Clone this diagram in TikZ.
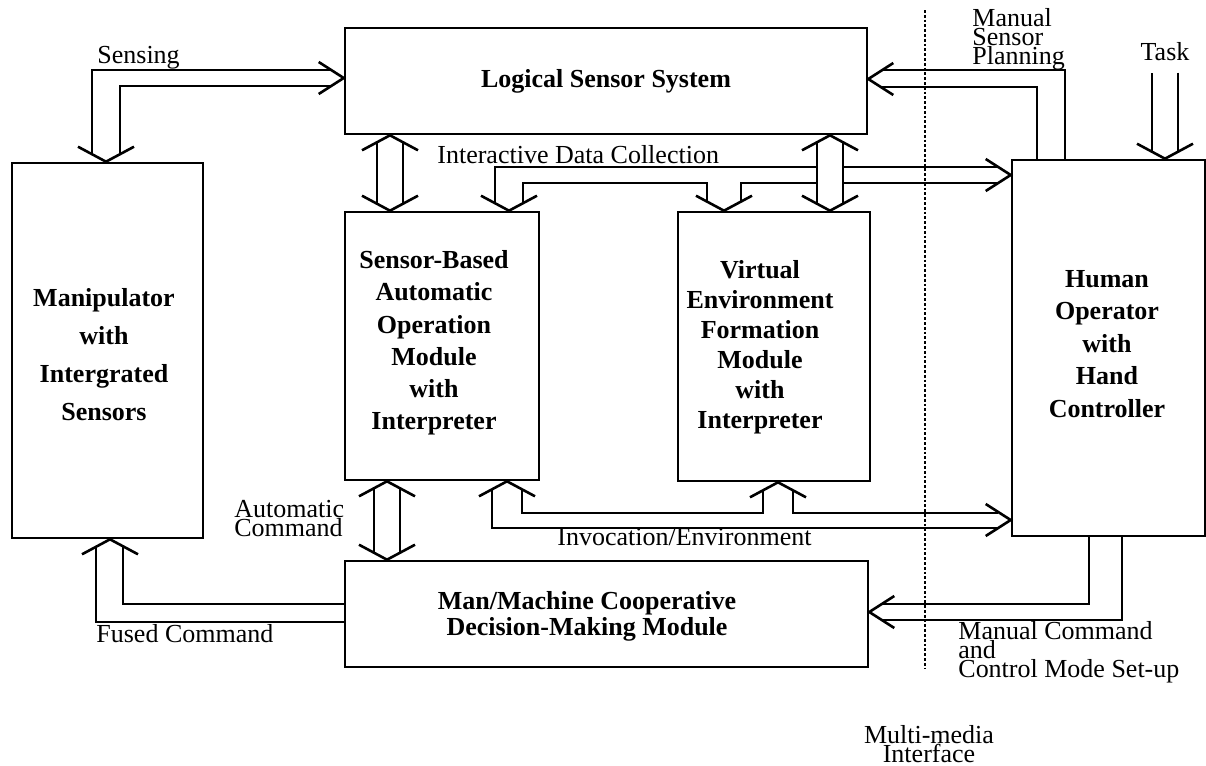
\documentclass[tikz,border=0pt]{standalone}
\usepackage{fontspec}
\setmainfont{Liberation Serif}
\usetikzlibrary{calc}
\lineskiplimit=-20pt

\tikzset{
  box/.style={draw, line width=1.3pt, inner sep=0pt},
  boxtext/.style={font=\bfseries\fontsize{13}{#1}\selectfont, align=center, inner sep=0pt},
  boxtext/.default=16,
  lbl/.style={font=\fontsize{13}{#1}\selectfont, inner sep=0pt},
  lbl/.default=9.5,
  pipe/.style={line width=1.3pt},
  twin/.style={line width=1.3pt, double=white, double distance=11.7pt},
  divider/.style={line width=1.4pt, dash pattern=on 1.4pt off 1pt},
  tipdown/.pic={\draw[pipe] (-28,-15) -- (0,0) -- (28,-15);},
  tipup/.pic={\draw[pipe] (-28,15) -- (0,0) -- (28,15);},
  tipright/.pic={\draw[pipe] (-25,-16) -- (0,0) -- (-25,16);},
  tipleft/.pic={\draw[pipe] (25,-16) -- (0,0) -- (25,16);},
}

\begin{document}
\begin{tikzpicture}[x=0.5pt, y=-0.5pt]
  \useasboundingbox (0,0) rectangle (1206,766);

  % blocks
  \node[box, minimum width=261pt, minimum height=53pt, font=\bfseries\fontsize{13}{16}\selectfont] (lss) at (606,81) {Logical Sensor System};
  \node[box, minimum width=95.5pt, minimum height=187.5pt] (man) at (107.5,350.5) {};
  \node[box, minimum width=97pt, minimum height=134pt] (sba) at (442,346) {};
  \node[box, minimum width=96pt, minimum height=134.5pt] (vef) at (774,346.5) {};
  \node[box, minimum width=96.5pt, minimum height=188pt] (hum) at (1108.5,348) {};
  \node[box, minimum width=261.5pt, minimum height=53pt] (mmc) at (606.5,614) {};

  \node[boxtext=19] (man-t) at (104,355) {Manipulator\\with\\Intergrated\\Sensors};
  \node[boxtext=16.1] (sba-t) at (434,343) {Sensor-Based\\Automatic\\Operation\\Module\\with\\Interpreter};
  \node[boxtext=15] (vef-t) at (760,347) {Virtual\\Environment\\Formation\\Module\\with\\Interpreter};
  \node[boxtext=16.25] (hum-t) at (1107,344) {Human\\Operator\\with\\Hand\\Controller};
  \node[boxtext=13] (mmc-t) at (587,616) {Man/Machine Cooperative\\Decision-Making Module};

  % labels
  \node[lbl, anchor=base west] (sensing) at (97,63) {Sensing};
  \node[lbl, anchor=base west] (idc) at (437,163) {Interactive Data Collection};
  \node[lbl, anchor=base west] (inv) at (557,545) {Invocation/Environment};
  \node[lbl, anchor=north west, align=left] (autoc) at (234,500) {Automatic\\Command};
  \node[lbl, anchor=base west] (fused) at (96,642) {Fused Command};
  \node[lbl, anchor=north west, align=left] (msp) at (972,8) {Manual\\Sensor\\Planning};
  \node[lbl, anchor=base] (task) at (1165,60) {Task};
  \node[lbl, anchor=north west, align=left] (mcm) at (958,621) {Manual Command\\and\\Control Mode Set-up};
  \node[lbl, anchor=north, align=center] (mmi) at (929,725) {Multi-media\\Interface};

  % interface line
  \coordinate (div-a) at (925,10);
  \coordinate (div-b) at (925,668);
  \draw[divider] (div-a) -- (div-b);

  % arrow head points
  \coordinate (manTop) at (man.north -| 106,0);
  \coordinate (sbaTopA) at (sba.north -| 390,0);
  \coordinate (sbaTopB) at (sba.north -| 509,0);
  \coordinate (vefTopA) at (vef.north -| 724,0);
  \coordinate (vefTopB) at (vef.north -| 830,0);
  \coordinate (mmcTop) at (mmc.north -| 387,0);
  \coordinate (humTop) at (hum.north -| task.south);
  \coordinate (lssBotA) at (lss.south -| 390,0);
  \coordinate (lssBotB) at (lss.south -| 830,0);
  \coordinate (sbaBotA) at (sba.south -| 387,0);
  \coordinate (sbaBotB) at (sba.south -| 507,0);
  \coordinate (vefBot) at (vef.south -| 778,0);
  \coordinate (manBot) at (man.south -| 110,0);
  \coordinate (lssIn) at (lss.west |- 0,78);
  \coordinate (humInA) at (hum.west |- 0,175);
  \coordinate (humInB) at (hum.west |- 0,520);
  \coordinate (lssOut) at (lss.east |- 0,79);
  \coordinate (mmcIn) at (mmc.east |- 0,612);

  % sensing
  \draw[pipe, shorten <=3.75pt, shorten >=6.25pt] (man.north -| 92,0) |- (lss.west |- 0,70);
  \draw[pipe, shorten <=3.75pt, shorten >=6.25pt] (man.north -| 120,0) |- (lss.west |- 0,86);
  % interactive data collection
  \draw[pipe, shorten <=3.75pt, shorten >=6.25pt] (sba.north -| 495,0) |- (hum.west |- 0,167);
  \draw[pipe, shorten <=3.75pt, shorten >=4.5pt] (sba.north -| 523,0) -- (523,183) -- (707,183) -- (vef.north -| 707,0);
  \draw[pipe, shorten <=4.5pt, shorten >=6.25pt] (vef.north -| 741,0) |- (hum.west |- 0,183);
  % invocation / environment
  \draw[pipe, shorten <=4pt, shorten >=6.25pt] (sba.south -| 492,0) |- (hum.west |- 0,528);
  \draw[pipe, shorten <=4pt, shorten >=4pt] (sba.south -| 522,0) -- (522,513) -- (763,513) -- (vef.south -| 763,0);
  \draw[pipe, shorten <=4pt, shorten >=6.25pt] (vef.south -| 793,0) |- (hum.west |- 0,513);
  % fused command
  \draw[pipe, shorten <=3.75pt] (man.south -| 96,0) |- (mmc.west |- 0,622);
  \draw[pipe, shorten <=3.75pt] (man.south -| 123,0) |- (mmc.west |- 0,604);
  % manual command
  \draw[pipe, shorten >=6.25pt] (hum.south -| 1089,0) |- (mmc.east |- 0,604);
  \draw[pipe, shorten >=6.25pt] (hum.south -| 1122,0) |- (mmc.east |- 0,620);
  % manual sensor planning
  \draw[pipe, shorten >=6.25pt] (hum.north -| 1037,0) |- (lss.east |- 0,87);
  \draw[pipe, shorten >=6.25pt] (hum.north -| 1065,0) |- (lss.east |- 0,70);

  % straight arrows
  \draw[twin, shorten <=3.5pt, shorten >=3.5pt] (lssBotA) -- (sbaTopA);
  \draw[twin, shorten <=3.5pt, shorten >=3.5pt] (lssBotB) -- (vefTopB);
  \draw[twin, shorten <=3.5pt, shorten >=3.5pt] (sbaBotA) -- (mmcTop);
  \draw[twin, shorten <=6pt, shorten >=3.5pt] (task.south) -- (humTop);

  % heads
  \foreach \p in {manTop,sbaTopA,sbaTopB,vefTopA,vefTopB,mmcTop,humTop}
    \pic at (\p) {tipdown};
  \foreach \p in {lssBotA,lssBotB,sbaBotA,sbaBotB,vefBot,manBot}
    \pic at (\p) {tipup};
  \foreach \p in {lssIn,humInA,humInB}
    \pic at (\p) {tipright};
  \foreach \p in {lssOut,mmcIn}
    \pic at (\p) {tipleft};
\end{tikzpicture}
\end{document}
